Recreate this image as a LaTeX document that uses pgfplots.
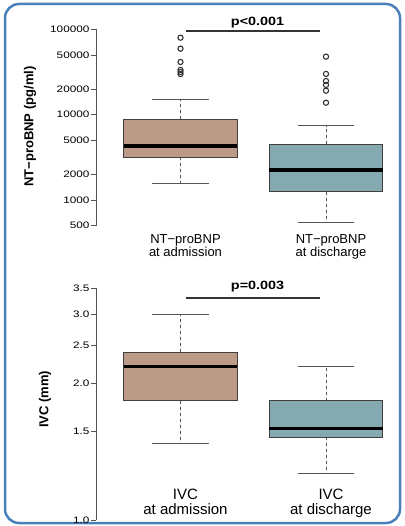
\documentclass[border=0pt]{standalone}
\usepackage{fontspec}
\setmainfont{Liberation Sans}
\newfontfamily\tickfont[FakeStretch=1.25]{Liberation Sans}
\newfontfamily\pfont[FakeStretch=1.2]{Liberation Sans}
\usepackage{pgfplots}
\pgfplotsset{compat=1.18}
\usepgfplotslibrary{statistics}
\definecolor{boxtan}{HTML}{BB9A87}
\definecolor{boxteal}{HTML}{85A9B1}
\definecolor{frameblue}{HTML}{4A80B8}
\definecolor{axgray}{HTML}{555555}

\tikzset{
  pval/.style={font=\pfont\bfseries\fontsize{12}{12}\selectfont, anchor=base},
  ylab/.style={font=\bfseries\fontsize{13}{13}\selectfont, rotate=90, anchor=center},
  bx/.style={draw=black!75, line width=0.9pt},
}
\pgfplotsset{
  boxplot/draw direction=y,
  boxplot/box extend=0.78,
  boxplot/whisker extend=0.39,
  boxplot/draw/median/.code={
    \draw[black, line width=3.2pt]
      (boxplot box cs:\pgfplotsboxplotvalue{median},0) --
      (boxplot box cs:\pgfplotsboxplotvalue{median},1);},
  boxplot/draw/lower whisker/.code={
    \draw[axgray, line width=0.9pt, dash pattern=on 3pt off 3pt]
      (boxplot whisker cs:\pgfplotsboxplotvalue{lower quartile},0.5) --
      (boxplot whisker cs:\pgfplotsboxplotvalue{lower whisker},0.5);
    \draw[axgray, line width=0.9pt]
      (boxplot whisker cs:\pgfplotsboxplotvalue{lower whisker},0) --
      (boxplot whisker cs:\pgfplotsboxplotvalue{lower whisker},1);},
  boxplot/draw/upper whisker/.code={
    \draw[axgray, line width=0.9pt, dash pattern=on 3pt off 3pt]
      (boxplot whisker cs:\pgfplotsboxplotvalue{upper quartile},0.5) --
      (boxplot whisker cs:\pgfplotsboxplotvalue{upper whisker},0.5);
    \draw[axgray, line width=0.9pt]
      (boxplot whisker cs:\pgfplotsboxplotvalue{upper whisker},0) --
      (boxplot whisker cs:\pgfplotsboxplotvalue{upper whisker},1);},
}

\begin{document}
\begin{tikzpicture}
\path[use as bounding box] (0,0) rectangle (404pt,-526pt);
\draw[frameblue, line width=2.5pt, rounded corners=14pt, fill=white]
  (5pt,-4pt) rectangle (400pt,-523pt);

% NT-proBNP panel
\begin{axis}[
  at={(96.1pt,-225.7pt)}, anchor=south west,
  scale only axis, width=302.65pt, height=196.4pt,
  xmin=0.42, xmax=2.5, ymode=log, ymin=500, ymax=100000,
  axis y line*=left, axis x line*=bottom,
  x axis line style={draw=none},
  xtick={1,2}, xtick style={draw=none},
  tick align=outside, major tick length=5.5pt,
  ytick style={axgray, line width=0.8pt},
  y axis line style={axgray, line width=0.8pt},
  yticklabel style={font=\tickfont\fontsize{9.4}{10}\selectfont, inner sep=1pt},
  ytick={500,1000,2000,5000,10000,20000,50000,100000},
  yticklabels={500,1000,2000,5000,10000,20000,50000,100000},
  xticklabels={NT−proBNP\\at admission, NT−proBNP\\at discharge},
  xticklabel style={align=center, anchor=north, xshift=5pt,
    font=\fontsize{13}{13}\selectfont, yshift=0pt},
  ylabel={NT−proBNP (pg/ml)},
  every axis y label/.style={at={(axis description cs:-0.218,0.505)}, ylab},
  clip=false,
]
\addplot[bx, fill=boxtan, mark=o, mark size=2.6pt,
  mark options={draw=black!80, line width=1.1pt, solid, fill=none},
  boxplot prepared={draw position=1,
  lower whisker=1556, lower quartile=3170, median=4300,
  upper quartile=8830, upper whisker=15100}]
  table[row sep=\\, y index=0] {data\\ 79700\\ 59300\\ 41400\\ 33400\\ 31600\\ 29900\\};
\addplot[bx, fill=boxteal, mark=o, mark size=2.6pt,
  mark options={draw=black!80, line width=1.1pt, solid, fill=none},
  boxplot prepared={draw position=2,
  lower whisker=543, lower quartile=1245, median=2250,
  upper quartile=4500, upper whisker=7430}]
  table[row sep=\\, y index=0] {data\\ 47800\\ 30000\\ 24800\\ 22300\\ 19100\\ 13800\\};
\addplot[black!80, line width=2pt] coordinates {(1.036,96300) (1.959,96300)};
\node[pval, yshift=5pt] at (axis cs:1.53,96300) {p<0.001};
\end{axis}

% IVC panel (reference places its 1.0 tick lower than a true log scale would)
\begin{axis}[
  at={(96.1pt,-520.3pt)}, anchor=south west,
  scale only axis, width=302.65pt, height=232pt,
  xmin=0.42, xmax=2.5, ymode=log, ymin=0.889, ymax=3.5,
  axis y line*=left, axis x line*=bottom,
  x axis line style={draw=none},
  xtick={1,2}, xtick style={draw=none},
  tick align=outside, major tick length=5.5pt,
  ytick style={axgray, line width=0.8pt},
  y axis line style={axgray, line width=0.8pt},
  yticklabel style={font=\tickfont\fontsize{9.4}{10}\selectfont, inner sep=1pt},
  ytick={0.889,1.5,2,2.5,3,3.5},
  yticklabels={1.0,1.5,2.0,2.5,3.0,3.5},
  xticklabels={IVC\\at admission, IVC\\at discharge},
  xticklabel style={align=center, anchor=north, xshift=5pt,
    font=\fontsize{15}{14.5}\selectfont, yshift=40pt},
  ylabel={IVC (mm)},
  every axis y label/.style={at={(axis description cs:-0.1685,0.521)}, ylab},
  clip=false,
]
\addplot[bx, fill=boxtan, boxplot prepared={draw position=1,
  lower whisker=1.40, lower quartile=1.80, median=2.20,
  upper quartile=2.40, upper whisker=3.00}] coordinates {};
\addplot[bx, fill=boxteal, boxplot prepared={draw position=2,
  lower whisker=1.17, lower quartile=1.45, median=1.53,
  upper quartile=1.80, upper whisker=2.20}] coordinates {};
\addplot[black!80, line width=2pt] coordinates {(1.036,3.31) (1.959,3.31)};
\node[pval, yshift=8.5pt] at (axis cs:1.53,3.31) {p=0.003};
\end{axis}
\end{tikzpicture}
\end{document}
